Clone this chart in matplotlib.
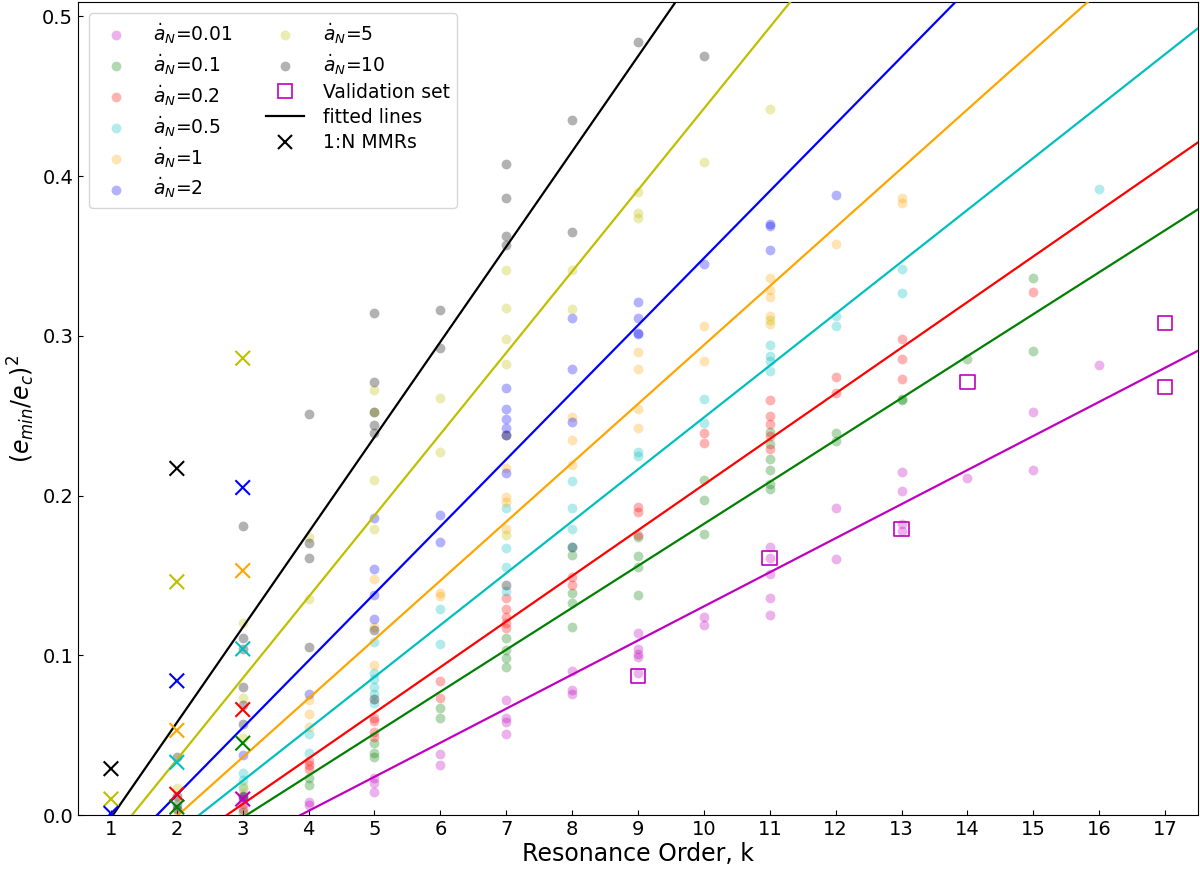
import numpy as np
import matplotlib
matplotlib.use("Agg")
import matplotlib.pyplot as plt
from matplotlib.lines import Line2D

# Valores: (e_min/e_c)^2 para cada ordem de ressonância k

# a_N = 0.01
k_001 = [3, 3, 4, 4, 5, 5, 5, 6, 6, 7, 7, 7, 7, 8, 8, 8, 9, 9, 9, 9, 9,
         10, 10, 11, 11, 11, 11, 11, 12, 12, 13, 13, 13, 13, 14, 15, 15, 16]
e_001 = [0.010, 0.007, 0.008, 0.006, 0.023, 0.020, 0.0145, 0.038, 0.031,
         0.072, 0.0605, 0.058, 0.0505, 0.090, 0.078, 0.076,
         0.114, 0.104, 0.101, 0.099, 0.089, 0.124, 0.119,
         0.168, 0.161, 0.151, 0.136, 0.125, 0.1925, 0.160,
         0.2145, 0.203, 0.1825, 0.1775, 0.211, 0.2525, 0.216, 0.282]

# a_N = 0.1
k_01 = [3, 4, 4, 5, 5, 5, 6, 6, 7, 7, 7, 7, 8, 8, 8, 8, 9, 9, 9, 9,
        10, 10, 10, 11, 11, 11, 11, 11, 11, 12, 12, 13, 13, 14, 15, 15]
e_01 = [0.002, 0.023, 0.019, 0.045, 0.039, 0.036, 0.067, 0.061,
        0.111, 0.103, 0.098, 0.0925, 0.163, 0.139, 0.1325, 0.1175,
        0.174, 0.162, 0.155, 0.1375, 0.210, 0.1975, 0.176,
        0.2395, 0.232, 0.223, 0.216, 0.207, 0.204, 0.239, 0.234,
        0.2605, 0.260, 0.2855, 0.336, 0.2905]

# a_N = 0.2
k_02 = [3, 4, 4, 4, 5, 5, 5, 5, 6, 6, 7, 7, 7, 7, 7, 8, 8, 9, 9, 9,
        10, 10, 11, 11, 11, 11, 11, 12, 12, 13, 13, 13, 15]
e_02 = [0.004, 0.034, 0.031, 0.029, 0.061, 0.059, 0.052, 0.049, 0.084, 0.073,
        0.136, 0.129, 0.124, 0.120, 0.117, 0.149, 0.144, 0.193, 0.190, 0.175,
        0.239, 0.233, 0.260, 0.250, 0.245, 0.2375, 0.229, 0.274, 0.264,
        0.298, 0.2855, 0.273, 0.3275]

# a_N = 0.5
k_05 = [3, 3, 3, 4, 4, 5, 5, 5, 5, 5, 5, 6, 6, 7, 7, 7, 7, 8, 8, 8, 8,
        9, 9, 10, 10, 11, 11, 11, 11, 12, 12, 13, 13, 16]
e_05 = [0.026, 0.022, 0.017, 0.051, 0.039, 0.108, 0.089, 0.085, 0.080, 0.076,
        0.070, 0.129, 0.107, 0.192, 0.167, 0.1555, 0.1405,
        0.209, 0.192, 0.179, 0.1675, 0.227, 0.2245, 0.2605, 0.2455,
        0.294, 0.2875, 0.284, 0.278, 0.3125, 0.306, 0.342, 0.327, 0.392]

# a_N = 1
k_1 = [2, 3, 3, 4, 4, 4, 5, 5, 5, 6, 6, 7, 7, 7, 7, 8, 8, 8, 9, 9, 9, 9,
       10, 10, 11, 11, 11, 11, 11, 12, 13, 13]
e_1 = [0.003, 0.014, 0.009, 0.072, 0.063, 0.055, 0.148, 0.118, 0.094,
       0.139, 0.137, 0.2175, 0.199, 0.196, 0.179, 0.249, 0.235, 0.219,
       0.290, 0.279, 0.254, 0.2425, 0.306, 0.284,
       0.336, 0.329, 0.324, 0.3125, 0.3075, 0.3575, 0.386, 0.383]

# a_N = 2
k_2 = [2, 3, 3, 4, 5, 5, 5, 5, 6, 6, 7, 7, 7, 7, 7, 7, 8, 8, 8,
       9, 9, 9, 9, 10, 11, 11, 11, 12]
e_2 = [0.006, 0.0375, 0.011, 0.076, 0.186, 0.154, 0.1375, 0.1225,
       0.188, 0.171, 0.2675, 0.254, 0.248, 0.2425, 0.238, 0.214,
       0.311, 0.279, 0.246, 0.321, 0.311, 0.302, 0.301, 0.345,
       0.370, 0.369, 0.354, 0.388]

# a_N = 5
k_5 = [2, 2, 3, 3, 3, 3, 4, 4, 5, 5, 5, 5, 6, 6, 7, 7, 7, 7, 7, 8, 8,
       9, 9, 9, 10, 11, 11]
e_5 = [0.017, 0.008, 0.120, 0.073, 0.048, 0.018, 0.174, 0.135,
       0.266, 0.252, 0.210, 0.179, 0.261, 0.227,
       0.341, 0.3175, 0.298, 0.2825, 0.175, 0.341, 0.317,
       0.390, 0.377, 0.374, 0.409, 0.442, 0.310]

# a_N = 10
k_10 = [2, 2, 2, 3, 3, 3, 3, 3, 3, 3, 4, 4, 4, 4, 5, 5, 5, 5, 5, 5, 5,
        6, 6, 7, 7, 7, 7, 7, 7, 8, 8, 8, 9, 10]
e_10 = [0.036, 0.012, 0.004, 0.181, 0.111, 0.104, 0.080, 0.069, 0.057, 0.012,
        0.251, 0.170, 0.161, 0.105, 0.314, 0.271, 0.252, 0.244, 0.239, 0.116,
        0.0725, 0.316, 0.2925, 0.4075, 0.386, 0.3625, 0.357, 0.238, 0.144,
        0.435, 0.365, 0.1675, 0.484, 0.475]

# Ressonâncias 1:N (cruzes), uma cor por a_N
mmr_k = [1, 1, 1, 2, 2, 2, 2, 2, 2, 2, 3, 3, 3, 3, 3, 3, 3]
mmr_e = [0.029, 0.010, 0.001, 0.217, 0.146, 0.084, 0.053, 0.033, 0.013, 0.005,
         0.286, 0.205, 0.153, 0.104, 0.066, 0.045, 0.010]
mmr_c = ["k", "y", "b", "k", "y", "b", "orange", "c", "r", "g",
         "y", "b", "orange", "c", "r", "g", "m"]

# Conjunto de validação
val_k = [9, 11, 13, 14, 17, 17]
val_e = [0.087, 0.161, 0.179, 0.271, 0.308, 0.268]

# Retas ajustadas: y = slope * (k - k0)
labels = ["0.01", "0.1", "0.2", "0.5", "1", "2", "5", "10"]
colors = ["m", "g", "r", "c", "orange", "b", "y", "k"]
fit_k0 = [3.88, 3.06, 2.76, 2.34, 2.02, 1.70, 1.32, 1.03]
fit_slope = [0.02134, 0.02626, 0.02857, 0.03249, 0.03687, 0.0420, 0.05095, 0.0596]

ks = [k_001, k_01, k_02, k_05, k_1, k_2, k_5, k_10]
es = [e_001, e_01, e_02, e_05, e_1, e_2, e_5, e_10]

fig = plt.figure(figsize=(12, 8.71), dpi=100)
ax = fig.add_axes([78 / 1200, 1 - 815 / 871, 1120 / 1200, 813 / 871])

for k, e, c, lab in zip(ks, es, colors, labels):
    ax.scatter(k, e, s=50, c=c, alpha=0.3, linewidths=0,
               label=r"$\dot{a}_N$=" + lab, zorder=2)

xx = np.linspace(0.5, 17.5, 200)
for k0, m, c in zip(fit_k0, fit_slope, colors):
    ax.plot(xx, m * (xx - k0), color=c, lw=1.6, zorder=3)

ax.scatter(val_k, val_e, s=110, marker="s", facecolors="none",
           edgecolors="m", linewidths=1.2, zorder=4)
ax.scatter(mmr_k, mmr_e, s=110, marker="x", c=mmr_c, linewidths=1.5, zorder=5)

# Legenda em duas colunas
handles, _ = ax.get_legend_handles_labels()
handles += [
    Line2D([], [], marker="s", ls="none", mfc="none", mec="m", ms=10, mew=1.2),
    Line2D([], [], color="k", lw=1.6),
    Line2D([], [], marker="x", ls="none", color="k", ms=10, mew=1.5),
]
names = [r"$\dot{a}_N$=" + lab for lab in labels] + ["Validation set", "fitted lines", "1:N MMRs"]
ax.legend(handles, names, loc="upper left", ncol=2, fontsize=13.5,
          labelspacing=0.33, columnspacing=1.8, handletextpad=1.0,
          borderaxespad=0.6)

ax.set_xlim(0.5, 17.5)
ax.set_ylim(0, 0.509)
ax.set_xticks(range(1, 18))
ax.set_yticks([0.0, 0.1, 0.2, 0.3, 0.4, 0.5])
ax.tick_params(direction="in", labelsize=14)
ax.set_xlabel("Resonance Order, k", fontsize=17, labelpad=2)
ax.set_ylabel(r"$(e_{min}/e_c)^2$", fontsize=17)

plt.savefig("out.png", dpi=100)
